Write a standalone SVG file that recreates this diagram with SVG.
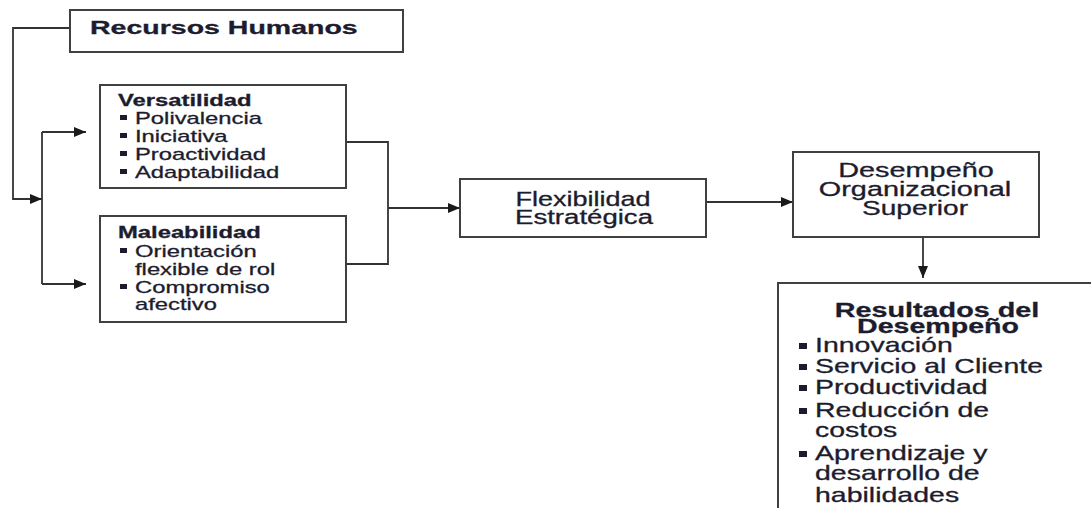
<svg xmlns="http://www.w3.org/2000/svg" width="1091" height="508" viewBox="0 0 1091 508">
<style>
.box{fill:#fff;stroke:#404040;stroke-width:2}
.ln{fill:none;stroke:#333;stroke-width:1.8}
text{font-family:"Liberation Sans",Arial,sans-serif;fill:#1c1c2e;stroke:#1c1c2e;stroke-width:0.3}
.b{font-weight:bold}
.s17{font-size:17px}
.s19{font-size:19px}
.s195{font-size:19.5px}
.s20{font-size:20px}
.s21{font-size:21px}
.c{text-anchor:middle}
.bul{fill:#1c1c2e}
</style>
<defs>
<marker id="ah" viewBox="0 0 12 10" refX="12" refY="5" markerWidth="12" markerHeight="10" markerUnits="userSpaceOnUse" orient="auto">
<path d="M0,0 L12,5 L0,10 Z" fill="#1a1a1a"/>
</marker>
</defs>
<g id="connectors">
<polyline class="ln" points="70,28 13,28 13,199 42,199" marker-end="url(#ah)"/>
<line class="ln" x1="42" y1="132" x2="42" y2="284"/>
<line class="ln" x1="42" y1="132" x2="86" y2="132" marker-end="url(#ah)"/>
<line class="ln" x1="42" y1="284" x2="86" y2="284" marker-end="url(#ah)"/>
<polyline class="ln" points="346,142 388,142 388,264 346,264"/>
<line class="ln" x1="388" y1="208" x2="460" y2="208" marker-end="url(#ah)"/>
<line class="ln" x1="706" y1="202" x2="793" y2="202" marker-end="url(#ah)"/>
<line class="ln" x1="923" y1="237" x2="923" y2="278" marker-end="url(#ah)"/>
</g>
<g id="recursos">
<rect class="box" x="70" y="10" width="333" height="42"/>
<text class="b s19" transform="translate(90,34) scale(1.5,1)">Recursos Humanos</text>
</g>
<g id="versatilidad">
<rect class="box" x="100" y="85" width="246" height="103"/>
<text class="b s17" transform="translate(118,106) scale(1.4,1)">Versatilidad</text>
<rect class="bul" x="120" y="115" width="7" height="5"/>
<text class="s17" transform="translate(135,124) scale(1.4,1)">Polivalencia</text>
<rect class="bul" x="120" y="133" width="7" height="5"/>
<text class="s17" transform="translate(135,142) scale(1.4,1)">Iniciativa</text>
<rect class="bul" x="120" y="151" width="7" height="5"/>
<text class="s17" transform="translate(135,160) scale(1.4,1)">Proactividad</text>
<rect class="bul" x="120" y="169" width="7" height="5"/>
<text class="s17" transform="translate(135,178) scale(1.4,1)">Adaptabilidad</text>
</g>
<g id="maleabilidad">
<rect class="box" x="100" y="216" width="246" height="106"/>
<text class="b s17" transform="translate(118,238) scale(1.4,1)">Maleabilidad</text>
<rect class="bul" x="120" y="248" width="7" height="5"/>
<text class="s17" transform="translate(135,257) scale(1.4,1)">Orientación</text>
<text class="s17" transform="translate(135,275) scale(1.4,1)">flexible de rol</text>
<rect class="bul" x="120" y="284" width="7" height="5"/>
<text class="s17" transform="translate(135,293) scale(1.4,1)">Compromiso</text>
<text class="s17" transform="translate(135,310) scale(1.4,1)">afectivo</text>
</g>
<g id="flexibilidad">
<rect class="box" x="460" y="179" width="246" height="58"/>
<text class="s20 c" transform="translate(583,206) scale(1.35,1)">Flexibilidad</text>
<text class="s20 c" transform="translate(584,224) scale(1.38,1)">Estratégica</text>
</g>
<g id="desempeno">
<rect class="box" x="793" y="152" width="246" height="85"/>
<text class="s195 c" transform="translate(916,177) scale(1.48,1)">Desempeño</text>
<text class="s195 c" transform="translate(915,196) scale(1.48,1)">Organizacional</text>
<text class="s195 c" transform="translate(915,215) scale(1.44,1)">Superior</text>
</g>
<g id="resultados">
<rect class="box" x="778" y="283" width="330" height="240"/>
<text class="b s21 c" transform="translate(937,317) scale(1.37,1)">Resultados del</text>
<text class="b s21 c" transform="translate(938,333) scale(1.36,1)">Desempeño</text>
<rect class="bul" x="799" y="343" width="8" height="6"/>
<text class="s20" transform="translate(815,352) scale(1.425,1)">Innovación</text>
<rect class="bul" x="799" y="364" width="8" height="6"/>
<text class="s20" transform="translate(815,373) scale(1.425,1)">Servicio al Cliente</text>
<rect class="bul" x="799" y="385" width="8" height="6"/>
<text class="s20" transform="translate(815,394) scale(1.425,1)">Productividad</text>
<rect class="bul" x="799" y="408" width="8" height="6"/>
<text class="s20" transform="translate(815,417) scale(1.425,1)">Reducción de</text>
<text class="s20" transform="translate(815,437) scale(1.425,1)">costos</text>
<rect class="bul" x="799" y="451" width="8" height="6"/>
<text class="s20" transform="translate(815,460) scale(1.425,1)">Aprendizaje y</text>
<text class="s20" transform="translate(815,480) scale(1.425,1)">desarrollo de</text>
<text class="s20" transform="translate(815,502) scale(1.425,1)">habilidades</text>
</g>
</svg>
